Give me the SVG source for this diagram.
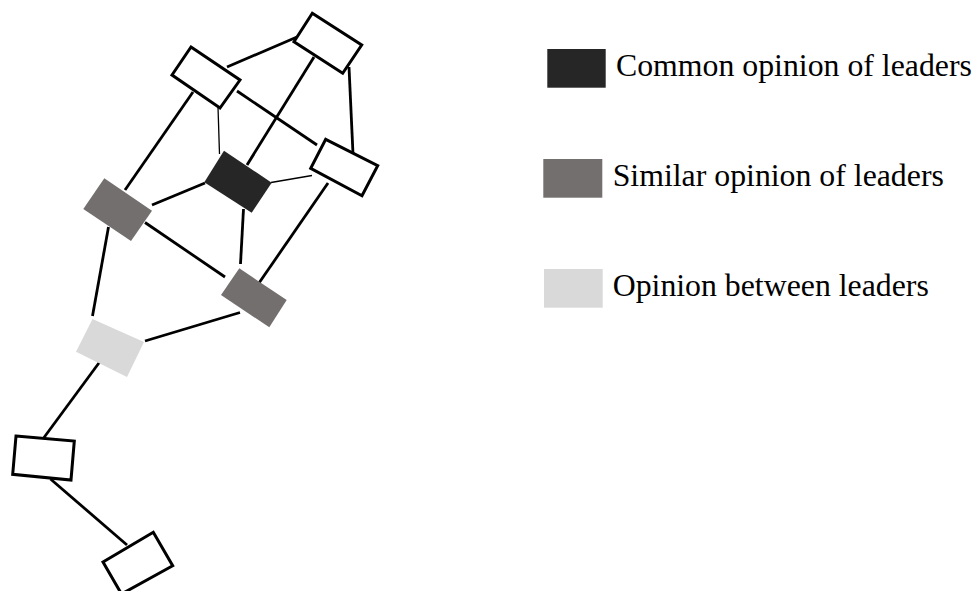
<svg xmlns="http://www.w3.org/2000/svg" width="975" height="591" viewBox="0 0 975 591">
<style>
.e{stroke:#000;stroke-width:2.8;fill:none;stroke-linecap:butt}
.t{stroke:#000;stroke-width:1.3;fill:none}
.w{fill:#fff;stroke:#000;stroke-width:3;stroke-linejoin:miter}
.dk{fill:#262626}
.gr{fill:#736f6e}
.lt{fill:#d9d9d9}
.lbl{font-family:"Liberation Serif","Times New Roman",serif;fill:#000;font-size:31.8px}
</style>
<rect width="975" height="591" fill="#fff"/>
<g id="connectors">
<line class="e" x1="227" y1="67" x2="297" y2="37"/>
<line class="e" x1="193" y1="92" x2="125" y2="190"/>
<line class="t" x1="218" y1="107" x2="219.5" y2="154"/>
<line class="e" x1="237" y1="91" x2="317" y2="145"/>
<line class="e" x1="314" y1="57" x2="247" y2="165"/>
<line class="e" x1="349" y1="67" x2="353" y2="154"/>
<line class="t" x1="271" y1="182.5" x2="312" y2="175.5"/>
<line class="e" x1="152" y1="205" x2="205" y2="183"/>
<line class="e" x1="243.5" y1="209" x2="240.5" y2="264"/>
<line class="e" x1="328" y1="183" x2="259" y2="283"/>
<line class="e" x1="145" y1="222.5" x2="225" y2="277"/>
<line class="e" x1="108.5" y1="227" x2="92.5" y2="316"/>
<line class="e" x1="145" y1="341" x2="240" y2="312.5"/>
<line class="e" x1="100" y1="361.5" x2="44" y2="437.5"/>
<line class="e" x1="50.5" y1="479" x2="127" y2="545"/>
</g>
<g id="nodeA"><polygon class="w" points="191,47 240,80 220,108 172,75"/></g>
<g id="nodeB"><polygon class="w" points="312.3,13.3 361.7,45 342.7,73.3 294,41.7"/></g>
<g id="nodeC"><polygon class="w" points="325.7,139.3 377.7,165.7 362,195.7 310.7,168.3"/></g>
<g id="nodeD"><polygon class="dk" points="224,150.7 271.7,182.7 251.7,212.7 204.3,182.3"/></g>
<g id="nodeE"><polygon class="gr" points="104.3,178.3 152,210.7 131,241 83.3,209"/></g>
<g id="nodeF"><polygon class="gr" points="239.3,268.3 286.7,300 269.3,327.3 221,295"/></g>
<g id="nodeG"><polygon class="lt" points="92.5,319 144,342 127,377 76,351.7"/></g>
<g id="nodeH"><polygon class="w" points="16,436 74.3,441 71,480 12.7,474.3"/></g>
<g id="nodeI"><polygon class="w" points="103,562 153.3,532.3 172.7,565.7 121.5,594"/></g>
<g id="legend">
<rect class="dk" x="547.3" y="49" width="58.4" height="38.7"/>
<text class="lbl" x="616" y="76">Common opinion of leaders</text>
<rect class="gr" x="543.3" y="159" width="59" height="38.7"/>
<text class="lbl" x="612.7" y="186">Similar opinion of leaders</text>
<rect class="lt" x="544" y="269" width="58.7" height="38.7"/>
<text class="lbl" x="612.7" y="296">Opinion between leaders</text>
</g>
</svg>
